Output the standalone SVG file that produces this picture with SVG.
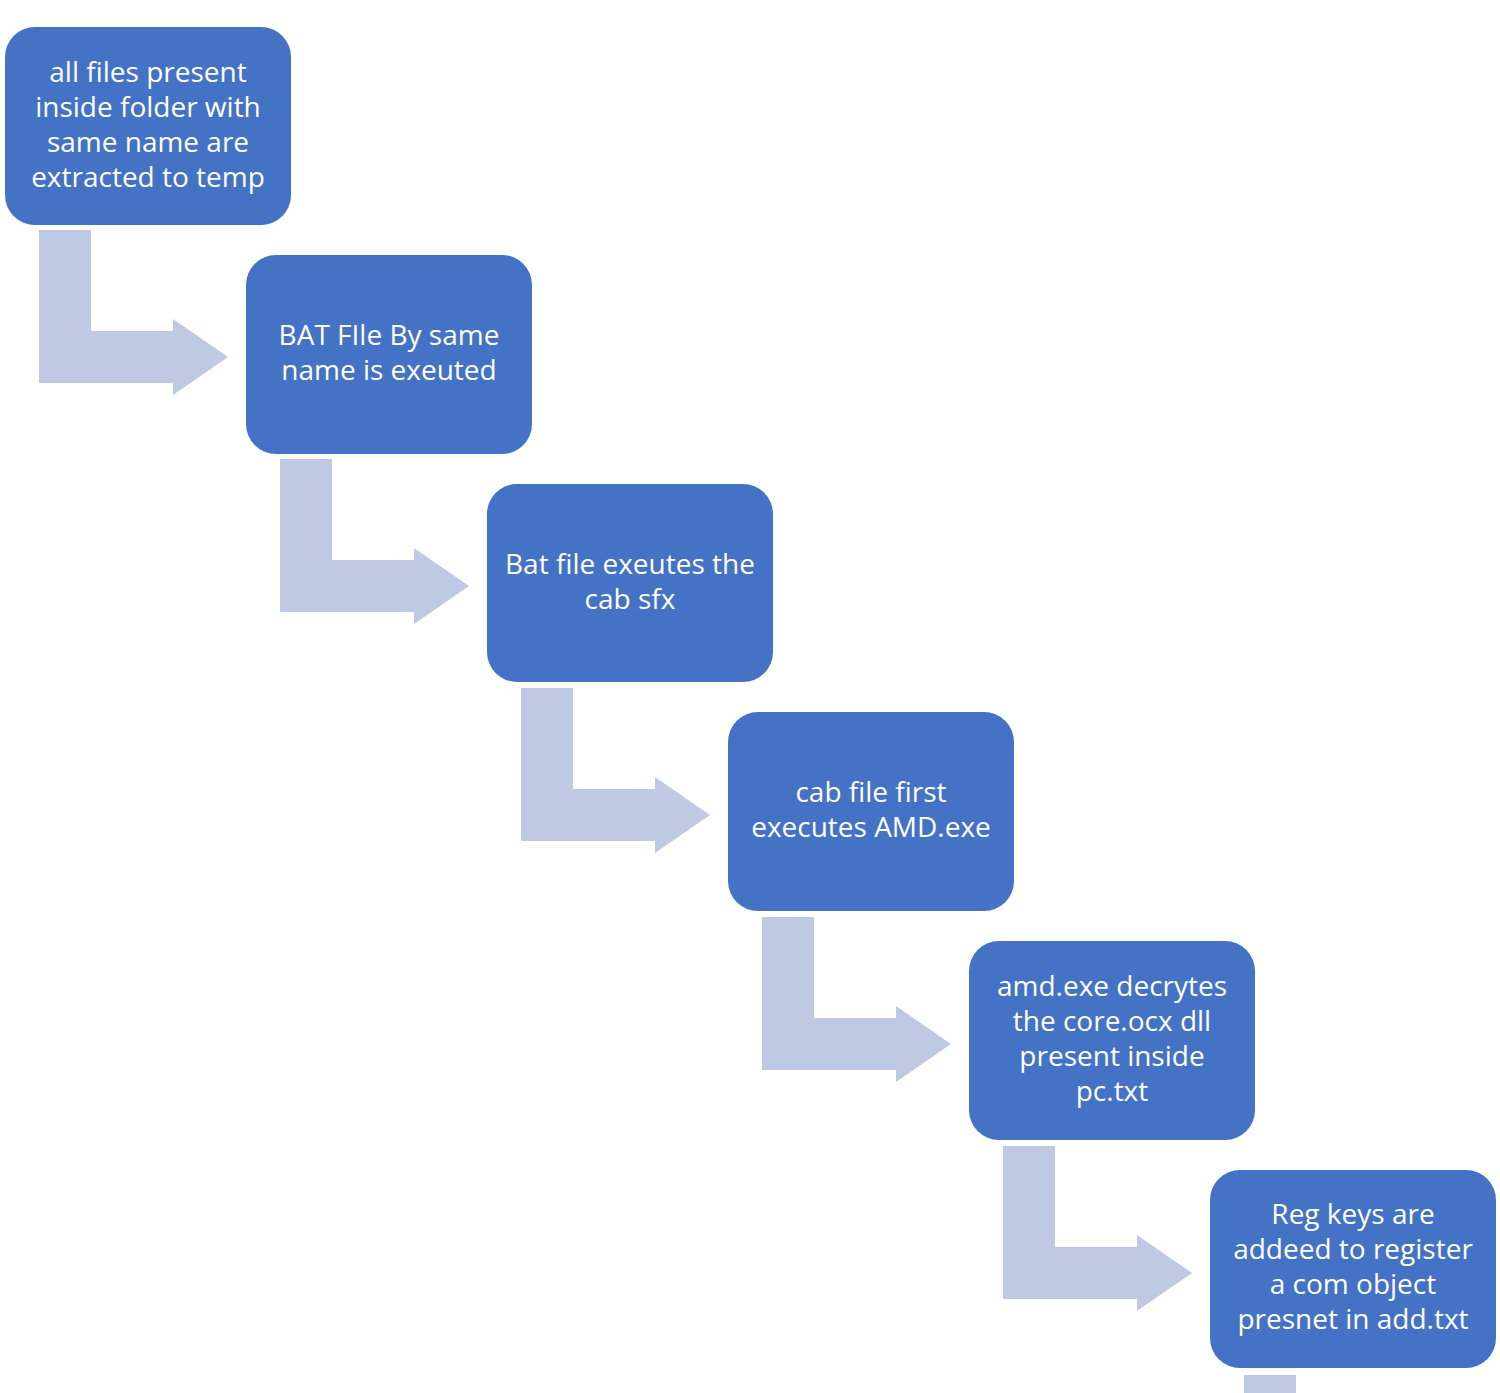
<svg xmlns="http://www.w3.org/2000/svg" width="1500" height="1393" viewBox="0 0 1500 1393">
<defs>
<style>
.box{fill:#4472C4;}
.arrow{fill:#BFC9E3;}
.t{font-family:"Open Sans","Noto Sans",sans-serif;font-size:28px;fill:#FFFFFF;text-anchor:middle;}
</style>
<path id="bent" d="M39,230 H91 V331 H173 V319 L228,357 L173,395 V383 H39 Z"/>
</defs>
<rect width="1500" height="1393" fill="#FFFFFF"/>
<g id="connectors">
<use href="#bent" class="arrow"/>
<use href="#bent" class="arrow" transform="translate(241,229)"/>
<use href="#bent" class="arrow" transform="translate(482,458)"/>
<use href="#bent" class="arrow" transform="translate(723,687)"/>
<use href="#bent" class="arrow" transform="translate(964,916)"/>
<use href="#bent" class="arrow" transform="translate(1205,1145)"/>
</g>
<g id="node1">
<rect class="box" x="5" y="27" width="286" height="198" rx="30"/>
<text class="t" x="148" y="82">all files present</text>
<text class="t" x="148" y="117">inside folder with</text>
<text class="t" x="148" y="152">same name are</text>
<text class="t" x="148" y="187">extracted to temp</text>
</g>
<g id="node2">
<rect class="box" x="246" y="255" width="286" height="199" rx="30"/>
<text class="t" x="389" y="345">BAT FIle By same</text>
<text class="t" x="389" y="380">name is exeuted</text>
</g>
<g id="node3">
<rect class="box" x="487" y="484" width="286" height="198" rx="30"/>
<text class="t" x="630" y="574">Bat file exeutes the</text>
<text class="t" x="630" y="609">cab sfx</text>
</g>
<g id="node4">
<rect class="box" x="728" y="712" width="286" height="199" rx="30"/>
<text class="t" x="871" y="802">cab file first</text>
<text class="t" x="871" y="837">executes AMD.exe</text>
</g>
<g id="node5">
<rect class="box" x="969" y="941" width="286" height="199" rx="30"/>
<text class="t" x="1112" y="996">amd.exe decrytes</text>
<text class="t" x="1112" y="1031">the core.ocx dll</text>
<text class="t" x="1112" y="1066">present inside</text>
<text class="t" x="1112" y="1101">pc.txt</text>
</g>
<g id="node6">
<rect class="box" x="1210" y="1170" width="286" height="198" rx="30"/>
<text class="t" x="1353" y="1224">Reg keys are</text>
<text class="t" x="1353" y="1259">addeed to register</text>
<text class="t" x="1353" y="1294">a com object</text>
<text class="t" x="1353" y="1329">presnet in add.txt</text>
</g>
</svg>
